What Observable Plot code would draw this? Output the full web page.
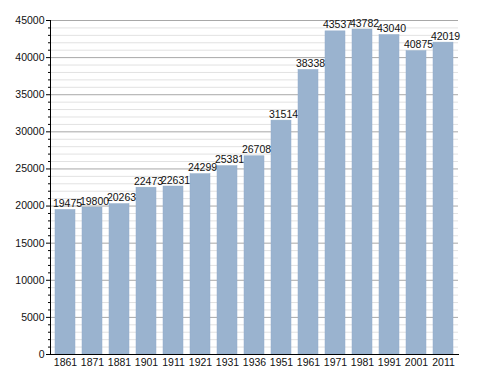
<!DOCTYPE html>
<html>
<head>
<meta charset="utf-8">
<script src="https://cdn.jsdelivr.net/npm/d3@7"></script>
<script src="https://cdn.jsdelivr.net/npm/@observablehq/plot@0.6"></script>
<style>
  html, body { margin: 0; padding: 0; background: #fff; }
</style>
</head>
<body>
<div id="chart"></div>
<script>
const years = ["1861","1871","1881","1901","1911","1921","1931","1936","1951","1961","1971","1981","1991","2001","2011"];
const population = [19475,19800,20263,22473,22631,24299,25381,26708,31514,38338,43537,43782,43040,40875,42019];
const majorTicks = [0,5000,10000,15000,20000,25000,30000,35000,40000,45000];
const minorTicks = d3.range(0, 45001, 1000).filter(v => v % 5000 !== 0);

const data = years.map((y, i) => ({year: y, value: population[i]}));

const chart = Plot.plot({
  width: 488,
  height: 373,
  marginLeft: 50,
  marginRight: 30,
  marginTop: 20,
  marginBottom: 19,
  style: {fontFamily: "'Liberation Sans', Arial, sans-serif", background: "#fff", color: "#111"},
  x: {domain: years, range: [51, 457], paddingInner: 0.275, paddingOuter: 0, label: null},
  y: {domain: [0, 45000], label: null},
  marks: [
    Plot.ruleY(minorTicks, {stroke: "#e2e2e2", strokeWidth: 1}),
    Plot.ruleY(majorTicks.filter(d => d > 0), {stroke: "#a8a8a8", strokeWidth: 1}),
    Plot.barY(data, {x: "year", y: "value", fill: "#9ab3cf", stroke: "#93adc9", strokeWidth: 0.5}),
    Plot.text(data, {x: "year", y: "value", text: d => String(d.value), lineAnchor: "bottom", dy: -3, dx: 2, fontSize: 10.5, fill: "#111"}),
    Plot.axisY({ticks: minorTicks, tickSize: 2, text: null, stroke: "#000", label: null}),
    Plot.axisY({ticks: majorTicks, tickSize: 4, tickPadding: 2, tickFormat: d => String(d), fontSize: 10.5, stroke: "#000", fill: "#111", label: null}),
    Plot.axisX({tickSize: 0, tickPadding: 4, fontSize: 10.5, fill: "#111", label: null}),
    Plot.frame({anchor: "left", stroke: "#000"}),
    Plot.frame({anchor: "bottom", stroke: "#000"})
  ]
});
document.getElementById("chart").appendChild(chart);
</script>
</body>
</html>
